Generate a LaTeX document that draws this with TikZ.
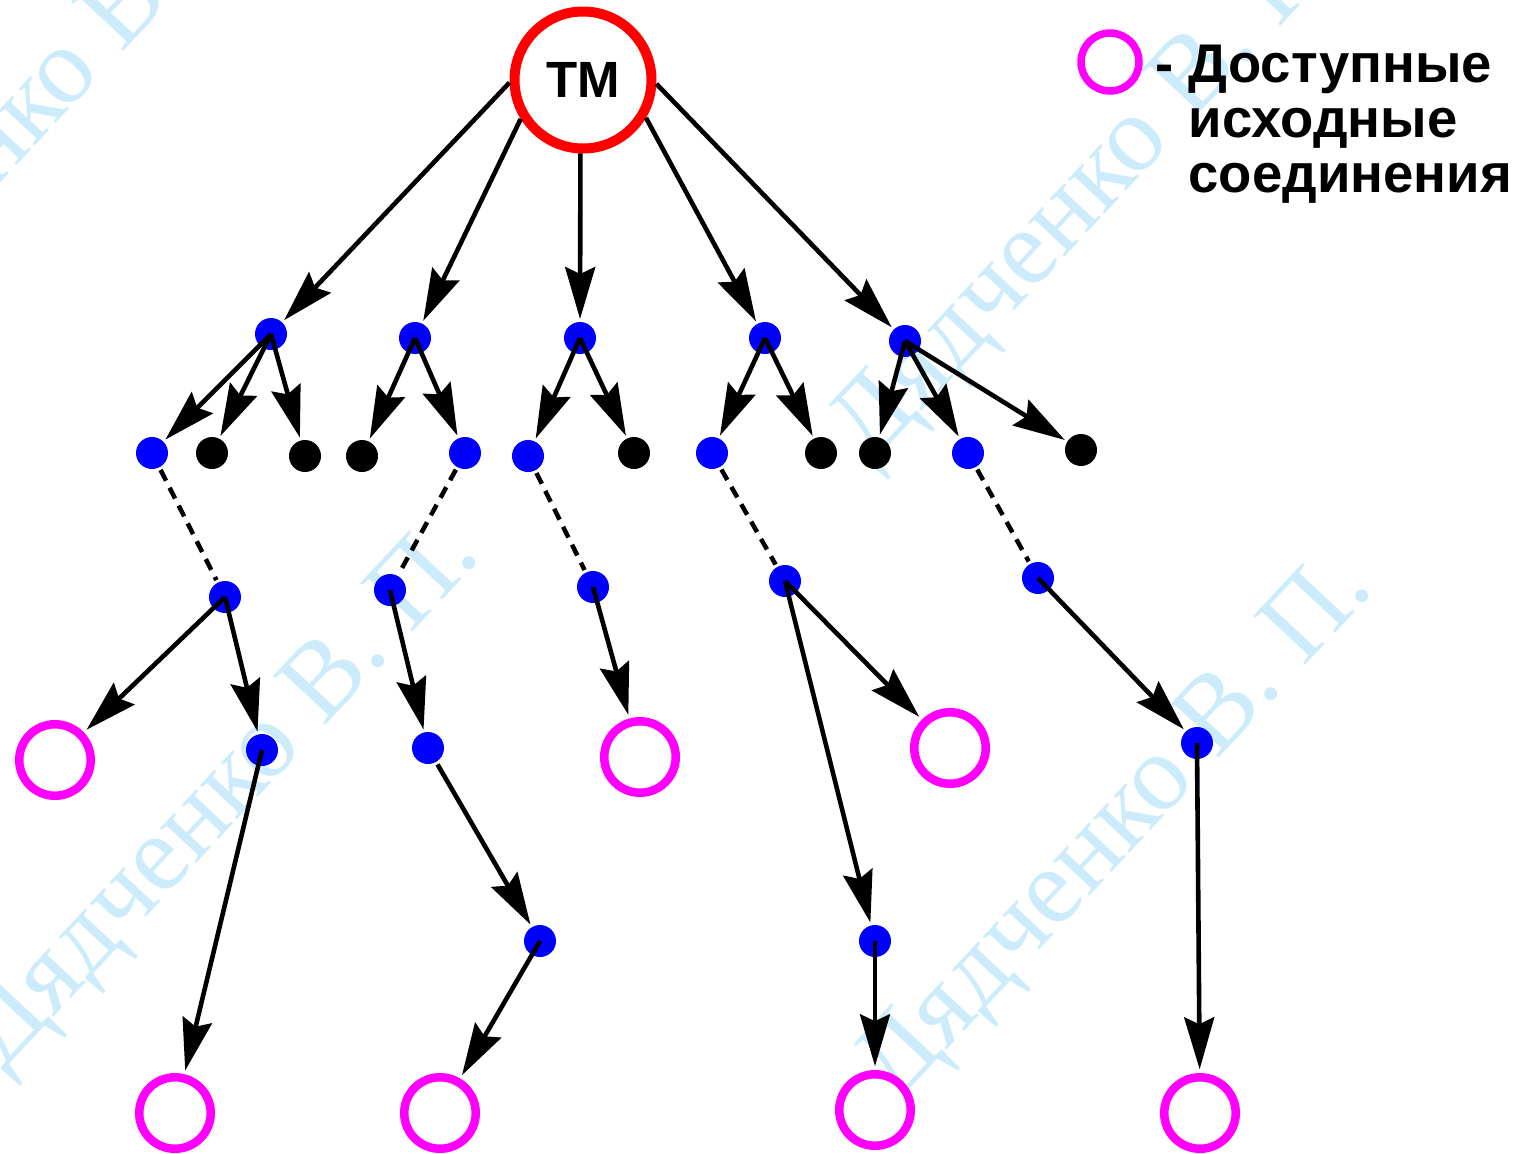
\documentclass[tikz,border=0pt]{standalone}
\usepackage{fontspec}
\setmainfont{Liberation Serif}
\setsansfont{Liberation Sans}
\usetikzlibrary{arrows.meta}
\definecolor{wmark}{RGB}{204,236,252}
\definecolor{srcpink}{RGB}{255,0,255}
\definecolor{dotblue}{RGB}{0,0,255}
\definecolor{tmred}{RGB}{255,0,0}
\tikzset{
	bdot/.style={circle,fill=dotblue,inner sep=0pt,minimum size=0.32cm,outer sep=0.03cm},
	kdot/.style={circle,fill=black,inner sep=0pt,minimum size=0.32cm,outer sep=0.03cm},
	src/.style={circle,draw=srcpink,fill=white,line width=0.085cm,inner sep=0pt,minimum size=0.715cm,outer sep=0.08cm},
	tm/.style={circle,draw=tmred,fill=white,line width=0.1cm,inner sep=0pt,minimum size=1.37cm,font=\sffamily\bfseries\fontsize{14.5}{14.5}\selectfont},
	txt/.style={anchor=base west,inner sep=0pt,font=\sffamily\bfseries\fontsize{15.5}{16}\selectfont},
	arr/.style={-{Stealth[length=0.52cm,width=0.3cm,inset=0.07cm]},line width=0.046cm},
	dsh/.style={line width=0.045cm,dash pattern=on 0.12cm off 0.08cm},
	wm/.style={text=wmark,font=\fontsize{31}{31}\selectfont,rotate=47,anchor=base west,inner sep=0pt},
}
\begin{document}
\begin{tikzpicture}
	\useasboundingbox (0,0) rectangle (15.26,-11.54);
	\begin{scope}
		\clip (0,0) rectangle (15.26,-11.54);
		\foreach \x/\y [count=\i] in {0.02/10.72, 8.95/11.05, 8.70/4.66, -2.00/3.98}
			\node[wm] (w\i) at (\x,-\y) {Дядченко В. П.};
	\end{scope}
	\node[tm] (tm) at (5.83,-0.80) {TM};
	\foreach \n/\x/\y in {a1/2.71/3.34, a2/4.15/3.38, a3/5.80/3.38, a4/7.65/3.38, a5/9.05/3.41, b1/1.52/4.53, b5/4.65/4.53, b6/5.28/4.56, b8/7.12/4.53, b11/9.68/4.53, c1/2.25/5.97, c2/3.90/5.90, c3/5.93/5.87, c4/7.85/5.81, c5/10.38/5.78, d1/2.62/7.50, d2/4.28/7.48, d3/5.40/9.41, d4/8.75/9.41, d5/11.97/7.43}
		\node[bdot] (\n) at (\x,-\y) {};
	\foreach \n/\x/\y in {b2/2.12/4.53, b3/3.05/4.56, b4/3.62/4.56, b7/6.34/4.53, b9/8.21/4.53, b10/8.75/4.53, b12/10.81/4.50}
		\node[kdot] (\n) at (\x,-\y) {};
	\foreach \n/\x/\y in {s1/0.55/7.60, s2/1.75/11.13, s3/4.40/11.13, s4/6.40/7.57, s5/9.50/7.48, s6/8.75/11.10, s7/12.00/11.13}
		\node[src] (\n) at (\x,-\y) {};
	\foreach \a/\n in {182/a1, 212/a2, 268/a3, 329/a4, 357/a5}
		\draw[arr] (tm.\a) -- (\n);
	\foreach \a/\n in {a1/b1, a1/b2, a1/b3, a2/b4, a2/b5, a3/b6, a3/b7, a4/b8, a4/b9, a5/b10, a5/b11, a5/b12, c1/s1, c1/d1, d1/s2, c2/d2, d3/s3, c3/s4, c4/s5, c4/d4, d4/s6, c5/d5, d5/s7}
		\draw[arr] (\a.center) -- (\n);
	\draw[arr] (d2) -- (d3);
	\foreach \a/\n in {b1/c1, b5/c2, b6/c3, b8/c4, b11/c5}
		\draw[dsh] (\a) -- (\n);
	\node[src,minimum size=0.58cm,line width=0.075cm] (key) at (11.10,-0.62) {};
	\node[txt] (k1) at (11.88,-0.82) {\llap{- }Доступные};
	\node[txt] (k2) at (11.88,-1.37) {исходные};
	\node[txt] (k3) at (11.88,-1.92) {соединения};
\end{tikzpicture}
\end{document}
